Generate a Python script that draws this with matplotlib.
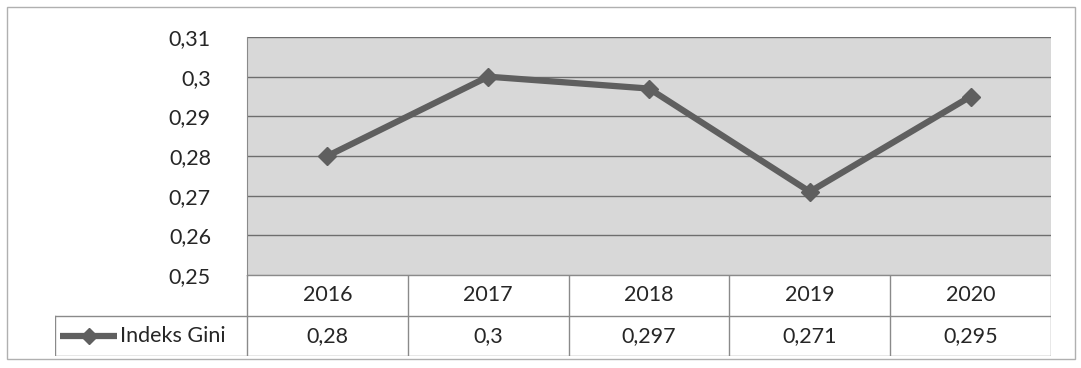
import matplotlib.pyplot as plt
from matplotlib.patches import Rectangle

# Data
tahun = ['2016', '2017', '2018', '2019', '2020']
gini = [0.28, 0.30, 0.297, 0.271, 0.295]
label_seri = 'Indeks Gini'
label_nilai = ['0,28', '0,3', '0,297', '0,271', '0,295']
yticks = [0.25, 0.26, 0.27, 0.28, 0.29, 0.30, 0.31]
ytick_labels = ['0,25', '0,26', '0,27', '0,28', '0,29', '0,3', '0,31']

W, H = 1081, 368
plt.rcParams['font.family'] = ['Lato', 'DejaVu Sans']
fig = plt.figure(figsize=(W / 100, H / 100), dpi=100)

garis = '#5f5f5f'
grid = '#6e6e6e'
tepi = '#8a8a8a'
teks = '#262626'
fs = 15.5

# frame around the whole chart
fig.patches.append(Rectangle((7 / W, 9 / H), 1068 / W, 352 / H, transform=fig.transFigure,
                             fill=False, edgecolor='#b0b0b0', lw=1))

# plot area
left, right, top, bot = 247, 1051, 37, 275
ax = fig.add_axes([left / W, 1 - bot / H, (right - left) / W, (bot - top) / H])
ax.set_facecolor('#d8d8d8')
x = list(range(len(tahun)))
ax.plot(x, gini, color=garis, lw=4.5, marker='D', markersize=9, zorder=3)
ax.set_xlim(-0.5, len(tahun) - 0.5)
ax.set_ylim(0.25, 0.31)
ax.set_yticks(yticks)
ax.set_yticklabels(ytick_labels, fontsize=fs, color=teks)
ax.set_xticks([])
ax.tick_params(axis='y', length=0, pad=26)
for y in yticks:
    ax.axhline(y, color=grid, lw=1, zorder=1)
for s in ['top', 'right', 'bottom']:
    ax.spines[s].set_visible(False)
ax.spines['left'].set_color(tepi)

# data table
tbl_bot = 356
col_w = (right - left) / len(tahun)
leg_left = 55
ext = (left - leg_left) / col_w
tx = fig.add_axes([leg_left / W, 1 - tbl_bot / H, (right - leg_left) / W, (tbl_bot - bot) / H])
tx.set_xlim(-0.5 - ext, len(tahun) - 0.5)
tx.set_ylim(0, 2)
tx.axis('off')
kw = dict(color=tepi, lw=1)
tx.plot([-0.5, len(tahun) - 0.5], [2, 2], **kw)
tx.plot([-0.5 - ext, len(tahun) - 0.5], [1, 1], **kw)
tx.plot([-0.5 - ext, len(tahun) - 0.5], [0, 0], **kw)
tx.plot([-0.5 - ext, -0.5 - ext], [0, 1], **kw)
for i in range(len(tahun) + 1):
    tx.plot([i - 0.5, i - 0.5], [0, 2], **kw)
for i, (t, v) in enumerate(zip(tahun, label_nilai)):
    tx.text(i, 1.5, t, ha='center', va='center', fontsize=fs, color=teks)
    tx.text(i, 0.5, v, ha='center', va='center', fontsize=fs, color=teks)
# legend key
x0 = -0.5 - ext + 5 / col_w
x1 = x0 + 57 / col_w
tx.plot([x0, x1], [0.5, 0.5], color=garis, lw=4.5, solid_capstyle='butt')
tx.plot([(x0 + x1) / 2], [0.5], marker='D', markersize=8, color=garis)
tx.text(x1 + 3 / col_w, 0.5, label_seri, ha='left', va='center', fontsize=fs, color=teks)

fig.savefig('out.png', dpi=100)
